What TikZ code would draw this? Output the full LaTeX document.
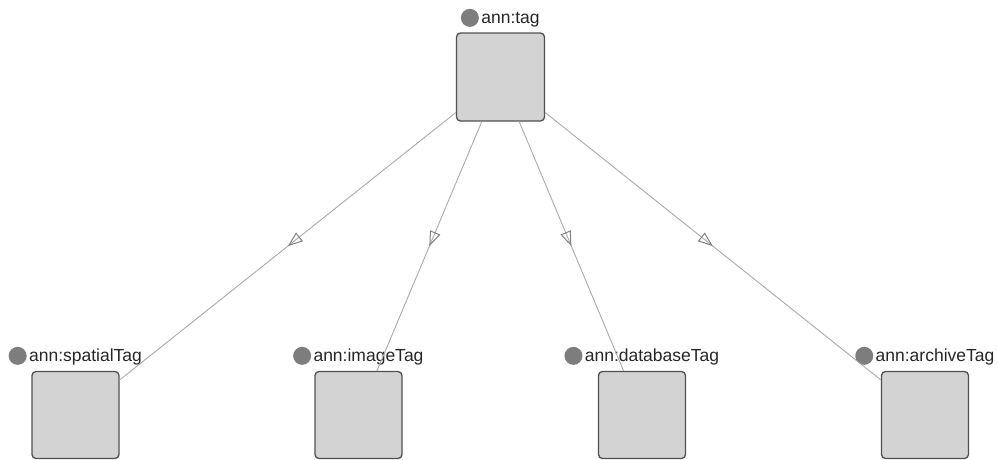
\documentclass[tikz,border=0pt]{standalone}
\usepackage{fontspec}
\setmainfont{Liberation Sans}
\usetikzlibrary{arrows.meta,positioning,decorations.markings}
\definecolor{boxfill}{RGB}{211,211,211}
\definecolor{boxline}{RGB}{80,80,80}
\definecolor{edgegray}{RGB}{170,170,170}
\definecolor{tipgray}{RGB}{130,130,130}
\definecolor{dotgray}{RGB}{125,125,125}
\tikzset{font={\fontsize{17.5pt}{20}\selectfont}}

\begin{document}
\begin{tikzpicture}[x=1pt,y=-1pt,
  cls/.style={draw=boxline, fill=boxfill, line width=1.3pt, rounded corners=4pt, minimum size=87pt, inner sep=0pt},
  lbl/.style={inner sep=0pt, anchor=base, text=black!85},
  dot/.style={circle, fill=dotgray, minimum size=18pt, inner sep=0pt, anchor=east},
  isa/.style={draw=edgegray, line width=0.9pt, postaction={decorate},
    decoration={markings, mark=at position 0.5 with {\arrow{Triangle[open, length=15pt, width=11pt, line width=1pt, color=tipgray]}}}}]
  \useasboundingbox (0,0) rectangle (998,459);

  % Define nodes
  \node[cls, minimum size=88pt] (tag) at (500.5,77) {};
  \node[cls] (spatial)  at (75.5,415) {};
  \node[cls] (image)    at (358.5,415) {};
  \node[cls] (database) at (642,415) {};
  \node[cls] (archive)  at (925,415) {};

  % Labels
  \node[lbl] (tagl) at ([xshift=10pt,yshift=8.5pt]tag.north) {ann:tag};
  \node[dot] at ([xshift=-2pt,yshift=6pt]tagl.base west) {};
  \node[lbl] (spatiall) at ([xshift=10pt,yshift=9pt]spatial.north) {ann:spatialTag};
  \node[dot] at ([xshift=-2pt,yshift=6pt]spatiall.base west) {};
  \node[lbl] (imagel) at ([xshift=10pt,yshift=9pt]image.north) {ann:imageTag};
  \node[dot] at ([xshift=-2pt,yshift=6pt]imagel.base west) {};
  \node[lbl] (databasel) at ([xshift=10pt,yshift=9pt]database.north) {ann:databaseTag};
  \node[dot] at ([xshift=-2pt,yshift=6pt]databasel.base west) {};
  \node[lbl] (archivel) at ([xshift=10pt,yshift=9pt]archive.north) {ann:archiveTag};
  \node[dot] at ([xshift=-2pt,yshift=6pt]archivel.base west) {};

  % Connect the nodes
  \draw[isa] (tag) -- (spatial);
  \draw[isa] (tag) -- (image);
  \draw[isa] (tag) -- (database);
  \draw[isa] (tag) -- (archive);
\end{tikzpicture}
\end{document}
